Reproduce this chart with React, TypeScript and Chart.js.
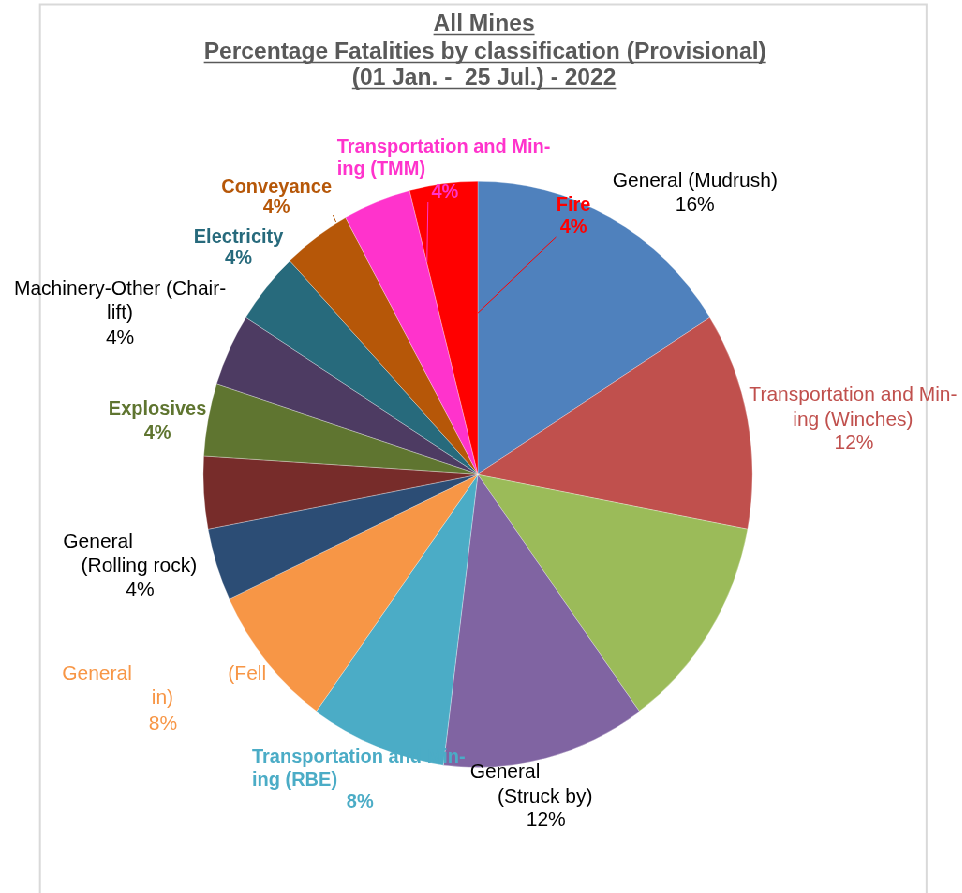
import React, { useEffect, useRef } from "react";
import { Chart, registerables } from "chart.js";

Chart.register(...registerables);

// ---------------- data ----------------
const titleLines = [
  "All Mines",
  "Percentage Fatalities by classification (Provisional)",
  "(01 Jan. -  25 Jul.) - 2022",
];

const categories = [
  "General (Mudrush)",
  "Transportation and Mining (Winches)",
  "General (Fall of ground)",
  "General (Struck by)",
  "Transportation and Mining (RBE)",
  "General (Fell in)",
  "General (Rolling rock)",
  "Heat sickness",
  "Explosives",
  "Machinery-Other (Chair-lift)",
  "Electricity",
  "Conveyance",
  "Transportation and Mining (TMM)",
  "Fire",
];

const fatalities = [4, 3, 3, 3, 2, 2, 1, 1, 1, 1, 1, 1, 1, 1];

const labelLines: (string[] | null)[] = [
  ["General (Mudrush)"],
  ["Transportation and Min-", "ing (Winches)"],
  null,
  ["General", "(Struck by)"],
  ["Transportation and Min-", "ing (RBE)"],
  ["General", "(Fell", "in)"],
  ["General", "(Rolling rock)"],
  null,
  ["Explosives"],
  ["Machinery-Other (Chair-", "lift)"],
  ["Electricity"],
  ["Conveyance"],
  ["Transportation and Min-", "ing (TMM)"],
  ["Fire"],
];

// ---------------- styles / layout ----------------
const sliceColors = [
  "#4F81BD", "#C0504D", "#9BBB59", "#8064A2", "#4BACC6", "#F79646", "#2C4D75",
  "#772C2A", "#5F7530", "#4D3B62", "#276A7C", "#B65708", "#FF33CC", "#FF0000",
];
const labelColors = [
  "#000000", "#C0504D", "#9BBB59", "#000000", "#4BACC6", "#F79646", "#000000",
  "#772C2A", "#5F7530", "#000000", "#276A7C", "#B65708", "#FF33CC", "#FF0000",
];

// reference-space geometry (the reference is compressed horizontally)
const REF_W = 962;
const REF_H = 893;
const CX_REF = 477.85;
const CY_REF = 474.35;
const R_H = 274.85;
const R_V = 293.35;
const S = R_H / R_V;
const W = Math.round(REF_W / S);

type Pos = [number, number, CanvasTextAlign];
interface LabelLayout {
  bold: boolean;
  pos: Pos[];
  leader?: [number, number][];
}
const labelLayout: (LabelLayout | null)[] = [
  { bold: false, pos: [[695, 181, "center"], [695, 205, "center"]] },
  { bold: false, pos: [[853, 395, "center"], [853, 420, "center"], [854, 443, "center"]] },
  null,
  { bold: false, pos: [[470, 772, "left"], [545, 797, "center"], [546, 820, "center"]] },
  { bold: true, pos: [[252, 757, "left"], [252, 780, "left"], [360, 802, "center"]] },
  { bold: false, pos: [[62, 674, "left"], [228, 674, "left"], [162.5, 698, "center"], [163, 724, "center"]] },
  { bold: false, pos: [[63, 542, "left"], [139, 566, "center"], [140, 590, "center"]] },
  null,
  { bold: true, pos: [[157.5, 409, "center"], [157.5, 433, "center"]] },
  { bold: false, pos: [[120, 289, "center"], [120, 313, "center"], [120, 338, "center"]] },
  { bold: true, pos: [[238.5, 237, "center"], [238.5, 258, "center"]] },
  { bold: true, pos: [[276.5, 187, "center"], [276.5, 207, "center"]], leader: [[333, 215], [336, 222]] },
  { bold: true, pos: [[337, 147, "left"], [337, 169, "left"], [445, 192, "center"]], leader: [[428, 202], [427, 262]] },
  { bold: true, pos: [[573.5, 205, "center"], [573.5, 227, "center"]], leader: [[556, 237], [478, 313]] },
];

const titlePos: [number, number][] = [[484, 24], [485, 52], [484, 78]];
const FONT = "'Liberation Sans', Arial, sans-serif";

const framePlugin = {
  id: "frame",
  beforeDraw(chart: any) {
    const ctx = chart.ctx as CanvasRenderingContext2D;
    ctx.save();
    ctx.fillStyle = "#ffffff";
    ctx.fillRect(0, 0, chart.width, chart.height);
    ctx.strokeStyle = "#D9D9D9";
    ctx.lineWidth = 2;
    ctx.strokeRect(40 / S, 4.5, (926.5 - 40) / S, REF_H + 50);
    ctx.restore();
  },
};

const titlePlugin = {
  id: "titleU",
  afterDraw(chart: any) {
    const ctx = chart.ctx as CanvasRenderingContext2D;
    ctx.save();
    ctx.font = `bold 24.6px ${FONT}`;
    ctx.fillStyle = "#595959";
    ctx.strokeStyle = "#595959";
    ctx.textAlign = "center";
    ctx.textBaseline = "middle";
    titleLines.forEach((t, i) => {
      const x = titlePos[i][0] / S;
      const y = titlePos[i][1];
      ctx.fillText(t, x, y);
      const w = ctx.measureText(t).width;
      ctx.lineWidth = 1.6;
      ctx.beginPath();
      ctx.moveTo(x - w / 2, y + 10.5);
      ctx.lineTo(x + w / 2, y + 10.5);
      ctx.stroke();
    });
    ctx.restore();
  },
};

const labelPlugin = {
  id: "sliceLabels",
  afterDatasetsDraw(chart: any) {
    const ctx = chart.ctx as CanvasRenderingContext2D;
    const data = chart.data.datasets[0].data as number[];
    const total = data.reduce((a, b) => a + b, 0);
    ctx.save();
    labelLayout.forEach((lay, i) => {
      const lines = labelLines[i];
      if (!lay || !lines) return;
      const pct = Math.round((data[i] / total) * 100) + "%";
      const all = [...lines, pct];
      const color = labelColors[i];
      if (lay.leader) {
        ctx.strokeStyle = color;
        ctx.lineWidth = 1;
        ctx.beginPath();
        ctx.moveTo(lay.leader[0][0] / S, lay.leader[0][1]);
        ctx.lineTo(lay.leader[1][0] / S, lay.leader[1][1]);
        ctx.stroke();
      }
      ctx.fillStyle = color;
      ctx.font = lay.bold ? `bold 20px ${FONT}` : `21px ${FONT}`;
      ctx.textBaseline = "middle";
      all.forEach((t, k) => {
        const p = lay.pos[k];
        ctx.textAlign = p[2];
        ctx.fillText(t, p[0] / S, p[1]);
      });
    });
    ctx.restore();
  },
};

export default function App() {
  const ref = useRef<HTMLCanvasElement>(null);
  useEffect(() => {
    if (!ref.current) return;
    const cxU = CX_REF / S;
    const chart = new Chart(ref.current, {
      type: "pie",
      data: {
        labels: categories,
        datasets: [
          {
            data: fatalities,
            backgroundColor: sliceColors,
            borderColor: "rgba(255,255,255,0.6)",
            borderWidth: 0.5,
          },
        ],
      },
      options: {
        responsive: false,
        animation: false,
        layout: {
          padding: {
            left: cxU - R_V,
            right: W - (cxU + R_V),
            top: CY_REF - R_V,
            bottom: REF_H - (CY_REF + R_V),
          },
        },
        plugins: {
          legend: { display: false },
          title: { display: false },
          tooltip: { enabled: false },
        },
      },
      plugins: [framePlugin, titlePlugin, labelPlugin],
    });
    return () => chart.destroy();
  }, []);

  return (
    <div
      style={{
        position: "absolute",
        left: 0,
        top: 0,
        width: W,
        height: REF_H,
        transform: `scaleX(${S})`,
        transformOrigin: "0 0",
        background: "#fff",
      }}
    >
      <canvas ref={ref} width={W} height={REF_H} style={{ display: "block" }} />
    </div>
  );
}
